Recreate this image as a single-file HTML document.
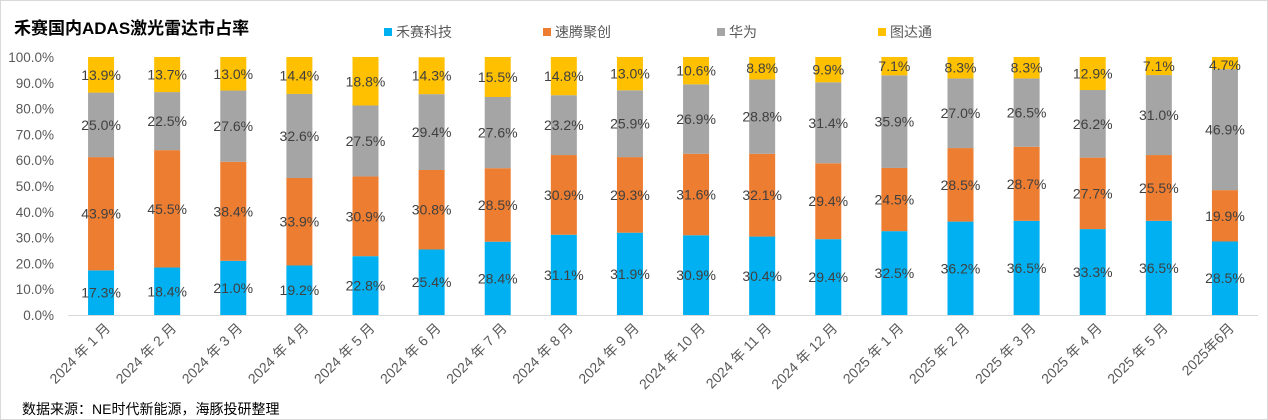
<!DOCTYPE html>
<html><head><meta charset="utf-8"><style>
body{margin:0;background:#fff;}
svg{display:block;font-family:"Liberation Sans","Noto Sans CJK SC",sans-serif;}
</style></head><body>
<svg id="c" width="1268" height="420">
<rect x="0.5" y="0.5" width="1267" height="419" fill="#fff" stroke="#d9d9d9"/>
<text x="14" y="34" font-size="17" font-weight="bold" fill="#000">禾赛国内ADAS激光雷达市占率</text>
<text x="22" y="414" font-size="14" fill="#000">数据来源：NE时代新能源，海豚投研整理</text>
<g id="legend"></g>
<g id="yaxis"></g>
<g id="bars"></g>
<g id="xaxis"></g>
</svg>
<script>
const categories=["2024 年 1 月","2024 年 2 月","2024 年 3 月","2024 年 4 月","2024 年 5 月","2024 年 6 月","2024 年 7 月","2024 年 8 月","2024 年 9 月","2024 年 10 月","2024 年 11 月","2024 年 12 月","2025 年 1 月","2025 年 2 月","2025 年 3 月","2025 年 4 月","2025 年 5 月","2025年6月"];
const hesai=[17.3,18.4,21.0,19.2,22.8,25.4,28.4,31.1,31.9,30.9,30.4,29.4,32.5,36.2,36.5,33.3,36.5,28.5];
const robosense=[43.9,45.5,38.4,33.9,30.9,30.8,28.5,30.9,29.3,31.6,32.1,29.4,24.5,28.5,28.7,27.7,25.5,19.9];
const huawei=[25.0,22.5,27.6,32.6,27.5,29.4,27.6,23.2,25.9,26.9,28.8,31.4,35.9,27.0,26.5,26.2,31.0,46.9];
const seyond=[13.9,13.7,13.0,14.4,18.8,14.3,15.5,14.8,13.0,10.6,8.8,9.9,7.1,8.3,8.3,12.9,7.1,4.7];
const seriesNames=["禾赛科技","速腾聚创","华为","图达通"];
const yTicks=[0,10,20,30,40,50,60,70,80,90,100];
const colors=["#00b0f0","#ed7d31","#a5a5a5","#ffc000"];
const NS="http://www.w3.org/2000/svg";
const x0=68,x1=1258,y0=315,y100=57;
const step=(x1-x0)/categories.length;
const X=i=>x0+step*(i+0.5);
const Y=v=>y0-(y0-y100)*v/100;
function mk(tag,attrs,parent,txt){const e=document.createElementNS(NS,tag);for(const k in attrs)e.setAttribute(k,attrs[k]);if(txt!==undefined)e.textContent=txt;parent.appendChild(e);return e;}
const lg=document.getElementById('legend'),ya=document.getElementById('yaxis'),bg=document.getElementById('bars'),xa=document.getElementById('xaxis');
const lx=[384,543,717,878];
seriesNames.forEach((n,i)=>{
 const r=mk('rect',{x:lx[i],y:28,width:8,height:8,fill:colors[i]},lg);
 
 
 const t=mk('text',{x:lx[i]+12,y:37,'font-size':14,fill:'#595959'},lg,n);
 
 
});
yTicks.forEach(v=>{
 const t=mk('text',{x:54,y:Y(v)+5,'font-size':13.5,fill:'#595959','text-anchor':'end'},ya,v.toFixed(1)+'%');
 
 
});
const series=[hesai,robosense,huawei,seyond];
categories.forEach((c,i)=>{
 let acc=0;
 series.forEach((s,k)=>{
  const v=s[i];let top=Math.min(acc+v,100);
  const r=mk('rect',{x:X(i)-13,y:Y(top),width:26,height:Y(acc)-Y(top),fill:colors[k]},bg);
  
  
  let ly=(Y(acc)+Y(top))/2+5;
  if(k===3)ly=Math.max(ly,Y(100)+13);
  const t=mk('text',{x:X(i),y:ly,'font-size':14,fill:'#404040','text-anchor':'middle'},bg,v.toFixed(1)+'%');
  
  
  acc=top;
 });
 const t=mk('text',{x:0,y:0,'font-size':14,fill:'#595959','text-anchor':'end',transform:`translate(${X(i)+10},${y0+14}) rotate(-45)`},xa,c);
 
 
});
const ax=mk('line',{x1:x0,x2:x1,y1:y0+0.5,y2:y0+0.5,stroke:'#d9d9d9'},xa);


</script>
</body></html>
